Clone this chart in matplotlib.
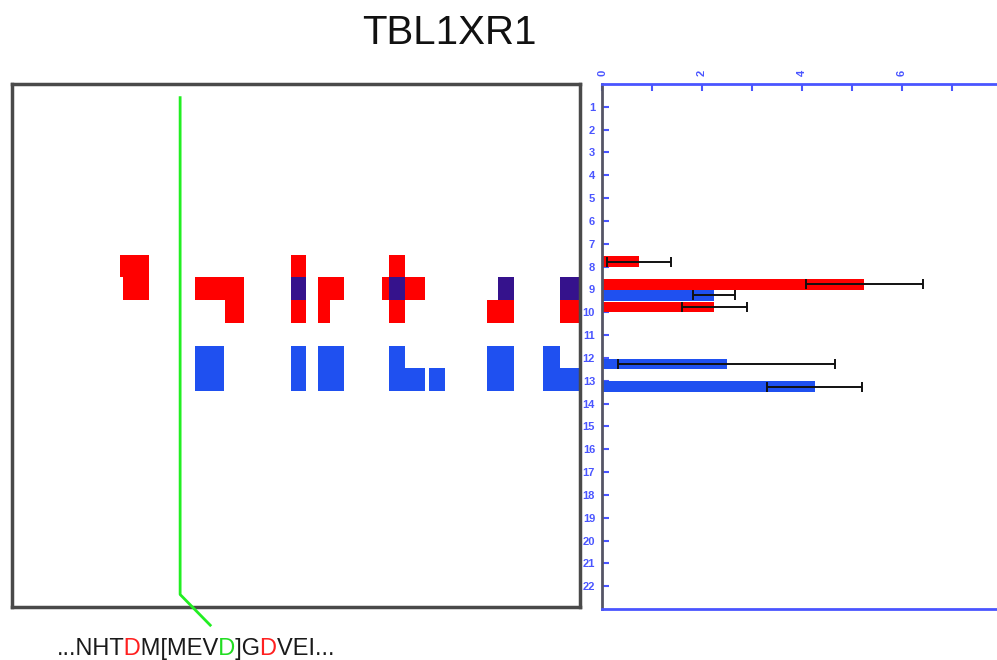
import numpy as np
import matplotlib
matplotlib.use("Agg")
import matplotlib.pyplot as plt
from matplotlib.patches import Rectangle
from matplotlib.lines import Line2D
from matplotlib.font_manager import FontProperties
from matplotlib.transforms import Bbox

plt.rcParams['font.family'] = ['Liberation Sans', 'DejaVu Sans']

# ---- data -------------------------------------------------------------
gene = "TBL1XR1"

# residue-map cells: (start, end, row) in sequence-position units (0-100)
red_cells = [(19.1, 24.2, 8), (19.6, 24.2, 9),
             (32.2, 40.9, 9), (37.5, 40.9, 10),
             (49.2, 51.7, 8), (49.2, 51.7, 10),
             (53.8, 58.5, 9), (53.8, 56.0, 10),
             (66.4, 69.2, 8), (65.1, 66.4, 9), (69.2, 72.7, 9), (66.4, 69.2, 10),
             (83.7, 88.4, 10),
             (96.5, 100.0, 10)]
overlap_cells = [(49.2, 51.7, 9), (66.4, 69.2, 9), (85.5, 88.4, 9), (96.5, 100.0, 9)]
blue_cells = [(32.2, 37.3, 12), (32.2, 37.3, 13),
              (49.2, 51.7, 12), (49.2, 51.7, 13),
              (53.8, 58.5, 12), (53.8, 58.5, 13),
              (66.4, 69.2, 12), (66.4, 72.7, 13), (73.5, 76.2, 13),
              (83.7, 88.4, 12), (83.7, 88.4, 13),
              (93.5, 96.5, 12), (93.5, 100.0, 13)]
site_position = 29.6

# bar chart
red_rows = [8, 9, 10]
red_values = [0.74, 5.24, 2.24]
red_errors = [0.64, 1.17, 0.65]
blue_rows = [9, 12, 13]
blue_values = [2.24, 2.49, 4.25]
blue_errors = [0.42, 2.17, 0.95]
row_labels = [str(i) for i in range(1, 23)]
x_ticks = [0, 2, 4, 6]

sequence_parts = [("...NHT", "#1a1a1a"), ("D", "#ff2020"), ("M[MEV", "#1a1a1a"),
                  ("D", "#22dd22"), ("]G", "#1a1a1a"), ("D", "#ff2020"),
                  ("VEI...", "#1a1a1a")]

# ---- styling ----------------------------------------------------------
RED = "#ff0000"
BLUE = "#1f50f0"
PURPLE = "#35128c"
GREEN = "#22ee22"
AXBLUE = "#4a55ff"

W, H = 997, 660
DPI = 100
fig = plt.figure(figsize=(W / DPI, H / DPI), dpi=DPI)


def fx(px):
    return px / W


def fy(py):
    return 1 - py / H


# ---- left panel: residue map ------------------------------------------
axL = fig.add_axes([fx(12), fy(607), fx(580 - 12), (607 - 84) / H])
axL.set_xlim(0, 100)
axL.set_ylim(23, 0)
axL.set_xticks([])
axL.set_yticks([])
for s in axL.spines.values():
    s.set_color("#4a4a4a")
    s.set_linewidth(2.5)

for cells, col in ((red_cells, RED), (overlap_cells, PURPLE), (blue_cells, BLUE)):
    for x0, x1, r in cells:
        axL.add_patch(Rectangle((x0, r - 0.5), x1 - x0, 1.0, facecolor=col,
                                edgecolor="none"))

# site marker line with its leader down to the sequence
axL.add_line(Line2D([site_position, site_position, site_position + 5.3],
                    [0.6, 22.45, 23.8], color=GREEN, lw=2, clip_on=False,
                    zorder=5))

# ---- right panel: bars -------------------------------------------------
axR = fig.add_axes([fx(602), fy(609), 1 - fx(602), (609 - 84) / H])
axR.set_xlim(0, 7.9)
axR.set_ylim(23, 0)

bar_h = 0.46
err_kw = dict(ecolor="#111111", elinewidth=1.4, capsize=3.5, capthick=1.4)
axR.barh([r - 0.22 for r in red_rows], red_values, height=bar_h, color=RED,
         xerr=red_errors, error_kw=err_kw, zorder=2)
axR.barh([r + 0.26 for r in blue_rows], blue_values, height=bar_h, color=BLUE,
         xerr=blue_errors, error_kw=err_kw, zorder=2)

axR.spines["right"].set_visible(False)
axR.spines["top"].set_color(AXBLUE)
axR.spines["bottom"].set_color(AXBLUE)
axR.spines["left"].set_color("#555566")
for s in ("top", "bottom", "left"):
    axR.spines[s].set_linewidth(2)

axR.set_yticks(range(1, 23))
axR.set_yticklabels(row_labels)
axR.xaxis.tick_top()
axR.set_xticks(x_ticks)
axR.set_xticklabels([str(v) for v in x_ticks], rotation=90)
axR.set_xticks([1, 3, 5, 7], minor=True)
axR.tick_params(axis="both", which="both", direction="in", colors=AXBLUE,
                length=5, width=1.5, labelsize=8)
axR.tick_params(axis="x", pad=6)
axR.tick_params(axis="y", pad=5)
for lab in axR.get_yticklabels() + axR.get_xticklabels():
    lab.set_fontweight("bold")

# ---- title -------------------------------------------------------------
fig.text(fx(449), fy(33), gene, fontsize=29, ha="center", va="center",
         color="#111111")

# ---- sequence with coloured residues -----------------------------------
# The whole sequence is laid out once; each coloured run is the same string
# clipped to its own column band, so glyph spacing stays untouched.  Band
# edges are the last inked pixel column of each leading substring.
seq_font = FontProperties(family=['Liberation Sans', 'DejaVu Sans'], size=17)
seq_text = "".join(p for p, _ in sequence_parts)
seq_x, seq_y = fx(57), fy(655)
seq_kw = dict(fontproperties=seq_font, ha="left", va="baseline")

base = fig.text(seq_x, seq_y, seq_text, color="black", **seq_kw)
fig.canvas.draw()
full_ext = base.get_window_extent(fig.canvas.get_renderer())
base.remove()
r0 = max(int(H - full_ext.y1) - 1, 0)
r1 = min(int(H - full_ext.y0) + 2, H)
c_lo = max(int(full_ext.x0) - 5, 0)
c_hi = min(int(full_ext.x1) + 6, W)


def last_ink_column(s):
    t = fig.text(seq_x, seq_y, s, color="black", **seq_kw)
    fig.canvas.draw()
    img = np.asarray(fig.canvas.buffer_rgba())[r0:r1, c_lo:c_hi, :3].astype(float)
    t.remove()
    cols = np.nonzero((255.0 - img.min(axis=2)).sum(axis=0) > 0)[0]
    return c_lo + cols[-1]


bounds = [0.0]
count = 0
for txt, _ in sequence_parts[:-1]:
    count += len(txt)
    bounds.append(last_ink_column(seq_text[:count]) + 1.0)
bounds.append(float(W))

for i, (_, col) in enumerate(sequence_parts):
    t = fig.text(seq_x, seq_y, seq_text, color=col, **seq_kw)
    t.set_clip_box(Bbox([[bounds[i], full_ext.y0 - 20],
                         [bounds[i + 1], full_ext.y1 + 20]]))

fig.savefig("out.png", dpi=DPI)
